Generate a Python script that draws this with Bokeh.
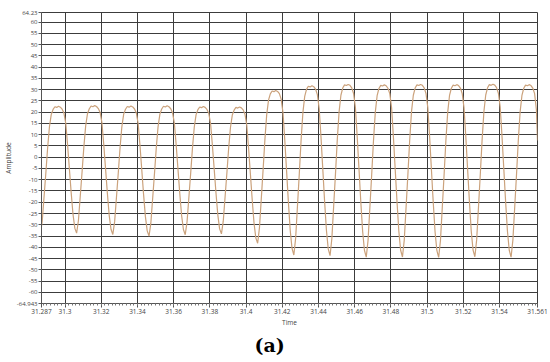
from bokeh.plotting import figure
from bokeh.models import Range1d, FixedTicker, Title
from bokeh.embed import file_html
from bokeh.resources import INLINE

# ---- axis limits and ticks ----
X_START, X_END = 31.287, 31.561
Y_MIN, Y_MAX = -64.943, 64.23

x_ticks = [31.287, 31.30, 31.32, 31.34, 31.36, 31.38, 31.40, 31.42, 31.44,
           31.46, 31.48, 31.50, 31.52, 31.54, 31.561]
x_tick_labels = ["31.287", "31.3", "31.32", "31.34", "31.36", "31.38", "31.4",
                 "31.42", "31.44", "31.46", "31.48", "31.5", "31.52", "31.54",
                 "31.561"]
y_ticks = [-64.943, -60, -55, -50, -45, -40, -35, -30, -25, -20, -15, -10, -5,
           0, 5, 10, 15, 20, 25, 30, 35, 40, 45, 50, 55, 60, 64.23]
y_tick_labels = ["-64.943", "-60", "-55", "-50", "-45", "-40", "-35", "-30",
                 "-25", "-20", "-15", "-10", "-5", "0", "5", "10", "15", "20",
                 "25", "30", "35", "40", "45", "50", "55", "60", "64.23"]

# ---- waveform samples (time in s, amplitude) ----
time = [
    31.2864,
    31.2874, 31.2884, 31.2894, 31.2904, 31.2914, 31.2924, 31.2934, 31.2944, 31.2954, 31.2964,
    31.2974, 31.2984, 31.2994, 31.3004, 31.3014, 31.3024, 31.3034, 31.3044, 31.3054, 31.3064,
    31.3074, 31.3084, 31.3094, 31.3104, 31.3114, 31.3124, 31.3134, 31.3144, 31.3154, 31.3164,
    31.3174, 31.3184, 31.3194, 31.3204, 31.3214, 31.3224, 31.3234, 31.3244, 31.3254, 31.3264,
    31.3274, 31.3284, 31.3294, 31.3304, 31.3314, 31.3324, 31.3334, 31.3344, 31.3354, 31.3364,
    31.3374, 31.3384, 31.3394, 31.3404, 31.3414, 31.3424, 31.3434, 31.3444, 31.3454, 31.3464,
    31.3474, 31.3484, 31.3494, 31.3504, 31.3514, 31.3524, 31.3534, 31.3544, 31.3554, 31.3564,
    31.3574, 31.3584, 31.3594, 31.3604, 31.3614, 31.3624, 31.3634, 31.3644, 31.3654, 31.3664,
    31.3674, 31.3684, 31.3694, 31.3704, 31.3714, 31.3724, 31.3734, 31.3744, 31.3754, 31.3764,
    31.3774, 31.3784, 31.3794, 31.3804, 31.3814, 31.3824, 31.3834, 31.3844, 31.3854, 31.3864,
    31.3874, 31.3884, 31.3894, 31.3904, 31.3914, 31.3924, 31.3934, 31.3944, 31.3954, 31.3964,
    31.3974, 31.3984, 31.3994, 31.4004, 31.4014, 31.4024, 31.4034, 31.4044, 31.4054, 31.4064,
    31.4074, 31.4084, 31.4094, 31.4104, 31.4114, 31.4124, 31.4134, 31.4144, 31.4154, 31.4164,
    31.4174, 31.4184, 31.4194, 31.4204, 31.4214, 31.4224, 31.4234, 31.4244, 31.4254, 31.4264,
    31.4274, 31.4284, 31.4294, 31.4304, 31.4314, 31.4324, 31.4334, 31.4344, 31.4354, 31.4364,
    31.4374, 31.4384, 31.4394, 31.4404, 31.4414, 31.4424, 31.4434, 31.4444, 31.4454, 31.4464,
    31.4474, 31.4484, 31.4494, 31.4504, 31.4514, 31.4524, 31.4534, 31.4544, 31.4554, 31.4564,
    31.4574, 31.4584, 31.4594, 31.4604, 31.4614, 31.4624, 31.4634, 31.4644, 31.4654, 31.4664,
    31.4674, 31.4684, 31.4694, 31.4704, 31.4714, 31.4724, 31.4734, 31.4744, 31.4754, 31.4764,
    31.4774, 31.4784, 31.4794, 31.4804, 31.4814, 31.4824, 31.4834, 31.4844, 31.4854, 31.4864,
    31.4874, 31.4884, 31.4894, 31.4904, 31.4914, 31.4924, 31.4934, 31.4944, 31.4954, 31.4964,
    31.4974, 31.4984, 31.4994, 31.5004, 31.5014, 31.5024, 31.5034, 31.5044, 31.5054, 31.5064,
    31.5074, 31.5084, 31.5094, 31.5104, 31.5114, 31.5124, 31.5134, 31.5144, 31.5154, 31.5164,
    31.5174, 31.5184, 31.5194, 31.5204, 31.5214, 31.5224, 31.5234, 31.5244, 31.5254, 31.5264,
    31.5274, 31.5284, 31.5294, 31.5304, 31.5314, 31.5324, 31.5334, 31.5344, 31.5354, 31.5364,
    31.5374, 31.5384, 31.5394, 31.5404, 31.5414, 31.5424, 31.5434, 31.5444, 31.5454, 31.5464,
    31.5474, 31.5484, 31.5494, 31.5504, 31.5514, 31.5524, 31.5534, 31.5544, 31.5554, 31.5564,
    31.5574, 31.5584, 31.5594, 31.5604, 31.5610,
]

amplitude = [
    -34.0,
    -28.4, -17.7, -7.0, 4.3, 13.6, 19.0, 21.2, 22.4, 22.1, 22.6,
    22.2, 21.3, 19.6, 15.0, 5.5, -5.1, -15.8, -25.3, -31.5, -33.7,
    -28.1, -17.4, -6.7, 4.6, 13.9, 19.3, 21.5, 22.7, 22.4, 22.9,
    22.5, 21.6, 19.8, 15.2, 5.5, -5.3, -16.1, -25.8, -32.0, -34.3,
    -28.6, -17.9, -7.1, 4.3, 13.6, 19.1, 21.3, 22.5, 22.2, 22.7,
    22.3, 21.4, 19.6, 14.9, 5.2, -5.7, -16.6, -26.4, -32.7, -35.0,
    -29.3, -18.3, -7.4, 4.1, 13.6, 19.1, 21.4, 22.6, 22.3, 22.8,
    22.4, 21.5, 19.7, 15.1, 5.4, -5.4, -16.2, -25.9, -32.1, -34.4,
    -28.7, -18.0, -7.2, 4.1, 13.4, 18.9, 21.1, 22.3, 22.0, 22.5,
    22.1, 21.2, 19.5, 14.9, 5.3, -5.3, -16.0, -25.6, -31.8, -34.0,
    -28.4, -17.8, -7.1, 4.1, 13.3, 18.7, 20.9, 22.1, 21.8, 22.3,
    21.9, 21.0, 19.1, 14.2, 3.9, -7.5, -18.9, -29.2, -35.8, -38.2,
    -31.4, -18.6, -5.8, 7.7, 18.8, 25.3, 28.1, 29.4, 29.1, 29.6,
    29.2, 28.2, 25.8, 19.8, 7.5, -6.3, -20.1, -32.5, -40.5, -43.4,
    -35.9, -21.7, -7.5, 7.5, 19.8, 27.0, 30.1, 31.5, 31.2, 31.7,
    31.3, 30.2, 27.8, 21.6, 8.9, -5.4, -19.7, -32.4, -40.7, -43.7,
    -36.1, -21.7, -7.4, 7.8, 20.2, 27.5, 30.7, 32.1, 31.8, 32.3,
    31.9, 30.8, 28.3, 22.1, 9.1, -5.4, -20.0, -32.9, -41.3, -44.4,
    -36.8, -22.3, -7.8, 7.4, 20.0, 27.3, 30.5, 31.9, 31.6, 32.1,
    31.7, 30.6, 28.2, 21.9, 9.0, -5.5, -19.9, -32.9, -41.3, -44.3,
    -36.7, -22.2, -7.7, 7.6, 20.2, 27.5, 30.7, 32.1, 31.8, 32.3,
    31.9, 30.8, 28.3, 22.1, 9.1, -5.5, -20.0, -33.0, -41.4, -44.5,
    -36.9, -22.3, -7.8, 7.5, 20.0, 27.4, 30.6, 32.0, 31.7, 32.2,
    31.8, 30.7, 28.3, 22.0, 9.1, -5.4, -19.8, -32.8, -41.2, -44.2,
    -36.6, -22.1, -7.6, 7.7, 20.3, 27.6, 30.8, 32.2, 31.9, 32.4,
    32.0, 30.9, 28.4, 22.2, 9.2, -5.4, -19.9, -32.9, -41.3, -44.4,
    -36.8, -22.3, -7.8, 7.5, 20.1, 27.4, 30.6, 32.0, 31.7, 32.2,
    31.8, 30.7, 28.2, 21.0, 7.4,
]

# ---- figure ----
p = figure(width=550, height=362,
           x_range=Range1d(X_START, X_END), y_range=Range1d(Y_MIN, Y_MAX),
           output_backend="svg", toolbar_location=None,
           min_border_left=37, min_border_right=13, min_border_top=12,
           min_border_bottom=59)
p.background_fill_color = "white"
p.border_fill_color = "white"
p.outline_line_color = "#3c3c3c"
p.outline_line_width = 1

p.line(time, amplitude, line_color="#cba27c", line_width=1.2)

x_minor = [round(31.288 + 0.002 * i, 3) for i in range(137)]
p.xaxis.ticker = FixedTicker(ticks=x_ticks, minor_ticks=x_minor)
p.yaxis.ticker = FixedTicker(ticks=y_ticks, minor_ticks=[])
p.xaxis.major_label_overrides = dict(zip(x_ticks, x_tick_labels))
p.yaxis.major_label_overrides = dict(zip(y_ticks, y_tick_labels))

for ax in (p.xaxis[0], p.yaxis[0]):
    ax.axis_line_color = "#555555"
    ax.major_tick_line_color = "#555555"
    ax.minor_tick_line_color = "#777777"
    ax.major_label_text_font = "Open Sans"
    ax.major_label_text_font_size = "6.5px"
    ax.major_label_text_color = "#444444"
    ax.axis_label_text_font = "Open Sans"
    ax.axis_label_text_font_size = "6.5px"
    ax.axis_label_text_font_style = "normal"
    ax.axis_label_text_color = "#444444"
    ax.major_label_standoff = 1
    ax.axis_label_standoff = 1

p.yaxis.major_label_text_font_size = "6px"
p.xaxis.axis_label = "Time"
p.yaxis.axis_label = "Amplitude"
p.xaxis.major_tick_out = 4
p.xaxis.major_tick_in = 0
p.xaxis.minor_tick_out = 2
p.xaxis.minor_tick_in = 0
p.yaxis.major_tick_out = 3
p.yaxis.major_tick_in = 0
p.yaxis.minor_tick_out = 0

p.xgrid.grid_line_color = "#3c3c3c"
p.ygrid.grid_line_color = "#3c3c3c"
p.xgrid.grid_line_width = 1
p.ygrid.grid_line_width = 1

cap = Title(text="(a)", align="left", offset=213,
            text_font="DejaVu Serif", text_font_size="19px",
            text_font_style="bold", text_color="black", standoff=4)
p.add_layout(cap, "below")

open("out.html", "w").write(file_html(p, INLINE))
